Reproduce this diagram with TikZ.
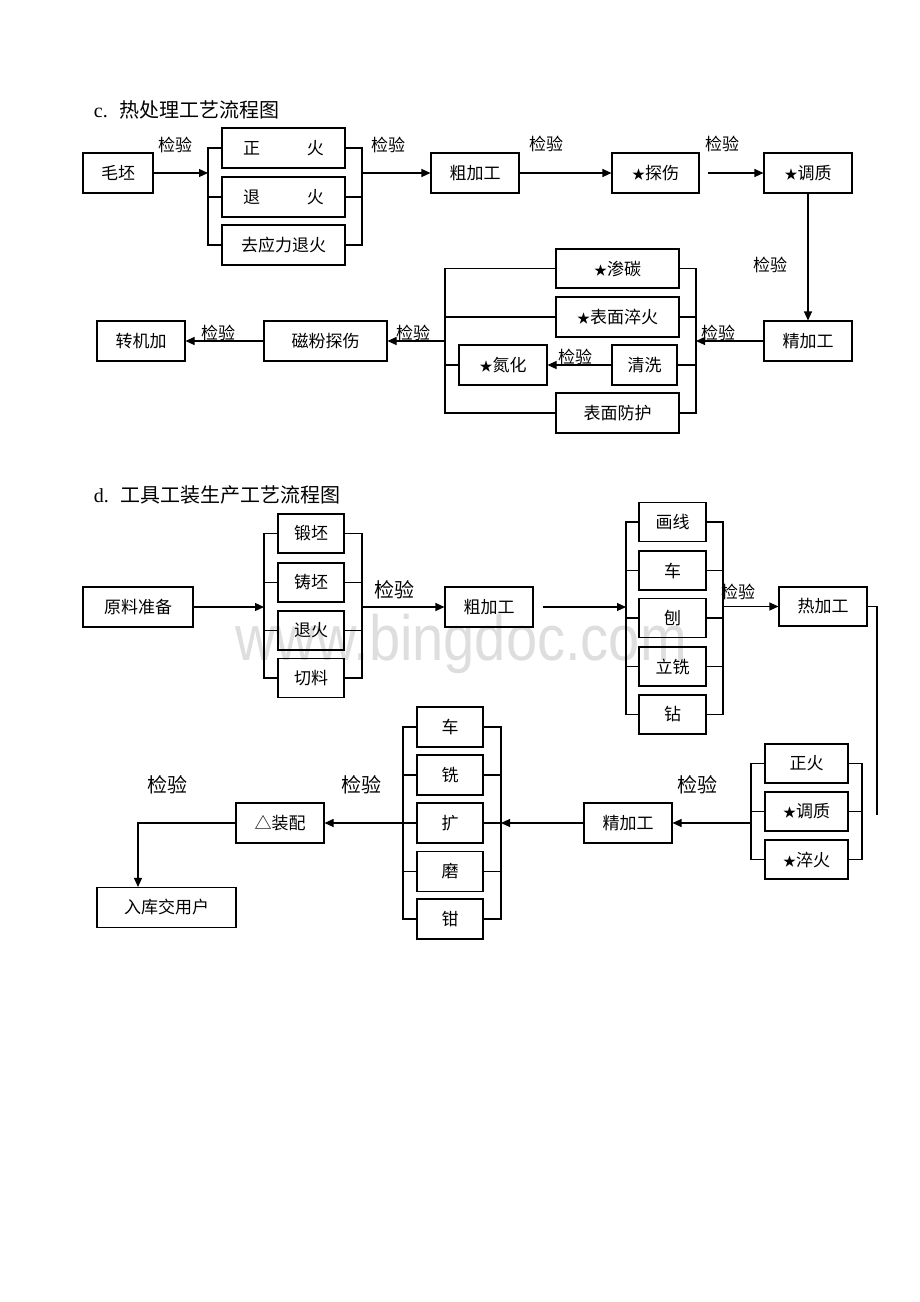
\documentclass[tikz,border=0pt]{standalone}
\usepackage{fontspec}
\setmainfont{Liberation Serif}
\newfontfamily\cjk{Noto Sans CJK SC}
\newfontfamily\wmfont{Liberation Sans}
\usetikzlibrary{arrows.meta,calc}
\tikzset{every picture/.style={>={Triangle[length=9pt,width=8pt]}},
  box/.style={draw,rectangle,inner sep=0pt,minimum height=40pt,font=\cjk\fontsize{17}{20}\selectfont},
  lab/.style={font=\cjk\fontsize{17}{20}\selectfont},
  biglab/.style={font=\cjk\fontsize{20}{24}\selectfont}}
\newcommand{\xing}{{\fontsize{13}{13}\selectfont ★}}
\begin{document}
\begin{tikzpicture}[x=1pt,y=-1pt,line width=1.1pt]
  \useasboundingbox (0,0) rectangle (920,1302);
  \node (wm) [anchor=base,text=black!13] at (461,660) {\wmfont\fontsize{64}{64}\selectfont\scalebox{0.876}[1]{www.bingdoc.com}};
  \node (ctitle) [anchor=west] at (90,110) {\fontsize{20}{24}\selectfont c.\hspace{12pt}{\cjk 热处理工艺流程图}};
  \node (mp) [box,minimum width=70pt] at (118,173) {毛坯};
  \node (zh) [box,minimum width=123pt] at (283.5,148) {正\hspace{2.75em}火};
  \node (th) [box,minimum width=123pt] at (283.5,197) {退\hspace{2.75em}火};
  \node (qy) [box,minimum width=123pt] at (283.5,245) {去应力退火};
  \node (cj1) [box,minimum width=88pt] at (475,173) {粗加工};
  \node (ts) [box,minimum width=87pt] at (655.5,173) {\xing 探伤};
  \node (tz1) [box,minimum width=88pt] at (808,173) {\xing 调质};
  \node (jj1) [box,minimum width=88pt] at (808,341) {精加工};
  \node (sc) [box,minimum width=123pt,minimum height=39pt] at (617.5,268.5) {\xing 渗碳};
  \node (bm) [box,minimum width=123pt] at (617.5,317) {\xing 表面淬火};
  \node (qx) [box,minimum width=65pt] at (644.5,365) {清洗};
  \node (dh) [box,minimum width=88pt] at (503,365) {\xing 氮化};
  \node (fh) [box,minimum width=123pt] at (617.5,413) {表面防护};
  \node (cf) [box,minimum width=123pt] at (325.5,341) {磁粉探伤};
  \node (zj) [box,minimum width=88pt] at (141,341) {转机加};
  \node (j1) [lab] at (175,145) {检验};
  \node (j2) [lab] at (388,145) {检验};
  \node (j3) [lab] at (546,144) {检验};
  \node (j4) [lab] at (722,144) {检验};
  \node (j5) [lab] at (770,265) {检验};
  \node (j6) [lab] at (718,333) {检验};
  \node (j7) [lab] at (575,357) {检验};
  \node (j8) [lab] at (413,333) {检验};
  \node (j9) [lab] at (218,333) {检验};
  \coordinate (b1l) at (208,0);
  \coordinate (b1r) at (362,0);
  \coordinate (b2l) at (445,0);
  \coordinate (b2r) at (696,0);
  \draw (zh.west) -- (zh.west -| b1l) -- (qy.west -| b1l) -- (qy.west);
  \draw (th.west) -- (th.west -| b1l);
  \draw (zh.east) -- (zh.east -| b1r) -- (qy.east -| b1r) -- (qy.east);
  \draw (th.east) -- (th.east -| b1r);
  \draw [->] (mp.east) -- (mp.east -| b1l);
  \draw [->] (mp.east -| b1r) -- (cj1.west);
  \draw [->] (cj1.east) -- (ts.west);
  \draw [->, shorten <=8pt] (ts.east) -- (tz1.west);
  \draw [->] (tz1.south) -- (jj1.north);
  \draw [->] (jj1.west) -- (jj1.west -| b2r);
  \draw (sc.west) -- (sc.west -| b2l) -- (fh.west -| b2l) -- (fh.west);
  \draw (bm.west) -- (bm.west -| b2l);
  \draw (dh.west) -- (dh.west -| b2l);
  \draw (sc.east) -- (sc.east -| b2r) -- (fh.east -| b2r) -- (fh.east);
  \draw (bm.east) -- (bm.east -| b2r);
  \draw (qx.east) -- (qx.east -| b2r);
  \draw [->] (qx.west) -- (dh.east);
  \draw [->] (cf.east -| b2l) -- (cf.east);
  \draw [->] (cf.west) -- (zj.east);
  \node (dtitle) [anchor=west] at (90,495) {\fontsize{20}{24}\selectfont d.\hspace{12pt}{\cjk 工具工装生产工艺流程图}};
  \node (yl) [box,minimum width=110pt] at (138,607) {原料准备};
  \node (dp) [box,minimum width=66pt,minimum height=39pt] at (311,533.5) {锻坯};
  \node (zp) [box,minimum width=66pt,minimum height=39pt] at (311,582.5) {铸坯};
  \node (thf) [box,minimum width=66pt,minimum height=39pt] at (311,630.5) {退火};
  \node (ql) [box,minimum width=66pt,minimum height=39pt] at (311,678) {切料};
  \node (cj2) [box,minimum width=88pt] at (489,607) {粗加工};
  \node (hx) [box,minimum width=67pt,minimum height=39pt] at (672.5,522) {画线};
  \node (che1) [box,minimum width=67pt,minimum height=39pt] at (672.5,570.5) {车};
  \node (bao) [box,minimum width=67pt,minimum height=39pt] at (672.5,618) {刨};
  \node (lx) [box,minimum width=67pt,minimum height=39pt] at (672.5,666.5) {立铣};
  \node (zuan) [box,minimum width=67pt,minimum height=39pt] at (672.5,714.5) {钻};
  \node (rj) [box,minimum width=88pt,minimum height=39pt] at (823,606.5) {热加工};
  \node (zhh) [box,minimum width=83pt,minimum height=39pt] at (806.5,763.5) {正火};
  \node (tz2) [box,minimum width=83pt,minimum height=39pt] at (806.5,811.5) {\xing 调质};
  \node (cuh) [box,minimum width=83pt,minimum height=39pt] at (806.5,859.5) {\xing 淬火};
  \node (jj2) [box,minimum width=88pt] at (628,823) {精加工};
  \node (che2) [box,minimum width=66pt] at (450,727) {车};
  \node (xi) [box,minimum width=66pt] at (450,775) {铣};
  \node (kuo) [box,minimum width=66pt] at (450,823) {扩};
  \node (mo) [box,minimum width=66pt] at (450,871.5) {磨};
  \node (qian) [box,minimum width=66pt] at (450,919) {钳};
  \node (zpei) [box,minimum width=88pt] at (280,823) {△装配};
  \node (rk) [box,minimum width=139pt] at (166.5,907.5) {入库交用户};
  \node (k1) [biglab] at (394,590) {检验};
  \node (k2) [lab] at (738,592) {检验};
  \node (k3) [biglab] at (697,785) {检验};
  \node (k4) [biglab] at (361,785) {检验};
  \node (k5) [biglab] at (167,785) {检验};
  \coordinate (b3l) at (264,0);
  \coordinate (b3r) at (362,0);
  \coordinate (b4l) at (626,0);
  \coordinate (b4r) at (723,0);
  \coordinate (b5l) at (751,0);
  \coordinate (b5r) at (862,0);
  \coordinate (b6l) at (403,0);
  \coordinate (b6r) at (501,0);
  \coordinate (rjd) at (877,815);
  \coordinate (zz) at (138,823);
  \draw [->] (yl.east) -- (yl.east -| b3l);
  \draw (dp.west) -- (dp.west -| b3l) -- (ql.west -| b3l) -- (ql.west);
  \draw (zp.west) -- (zp.west -| b3l);
  \draw (thf.west) -- (thf.west -| b3l);
  \draw (dp.east) -- (dp.east -| b3r) -- (ql.east -| b3r) -- (ql.east);
  \draw (zp.east) -- (zp.east -| b3r);
  \draw (thf.east) -- (thf.east -| b3r);
  \draw [->] (yl.east -| b3r) -- (cj2.west);
  \draw [->, shorten <=9pt] (cj2.east) -- (cj2.east -| b4l);
  \draw (hx.west) -- (hx.west -| b4l) -- (zuan.west -| b4l) -- (zuan.west);
  \draw (che1.west) -- (che1.west -| b4l);
  \draw (bao.west) -- (bao.west -| b4l);
  \draw (lx.west) -- (lx.west -| b4l);
  \draw (hx.east) -- (hx.east -| b4r) -- (zuan.east -| b4r) -- (zuan.east);
  \draw (che1.east) -- (che1.east -| b4r);
  \draw (bao.east) -- (bao.east -| b4r);
  \draw (lx.east) -- (lx.east -| b4r);
  \draw [->] (rj.west -| b4r) -- (rj.west);
  \draw (rj.east) -| (rjd);
  \draw (zhh.west) -- (zhh.west -| b5l) -- (cuh.west -| b5l) -- (cuh.west);
  \draw (tz2.west) -- (tz2.west -| b5l);
  \draw (zhh.east) -- (zhh.east -| b5r) -- (cuh.east -| b5r) -- (cuh.east);
  \draw (tz2.east) -- (tz2.east -| b5r);
  \draw [->] (jj2.east -| b5l) -- (jj2.east);
  \draw [->] (jj2.west) -- (jj2.west -| b6r);
  \draw (che2.west) -- (che2.west -| b6l) -- (qian.west -| b6l) -- (qian.west);
  \draw (xi.west) -- (xi.west -| b6l);
  \draw (kuo.west) -- (kuo.west -| b6l);
  \draw (mo.west) -- (mo.west -| b6l);
  \draw (che2.east) -- (che2.east -| b6r) -- (qian.east -| b6r) -- (qian.east);
  \draw (xi.east) -- (xi.east -| b6r);
  \draw (kuo.east) -- (kuo.east -| b6r);
  \draw (mo.east) -- (mo.east -| b6r);
  \draw [->] (zpei.east -| b6l) -- (zpei.east);
  \draw [->] (zpei.west) -- (zz) -- (zz |- rk.north);
\end{tikzpicture}
\end{document}
